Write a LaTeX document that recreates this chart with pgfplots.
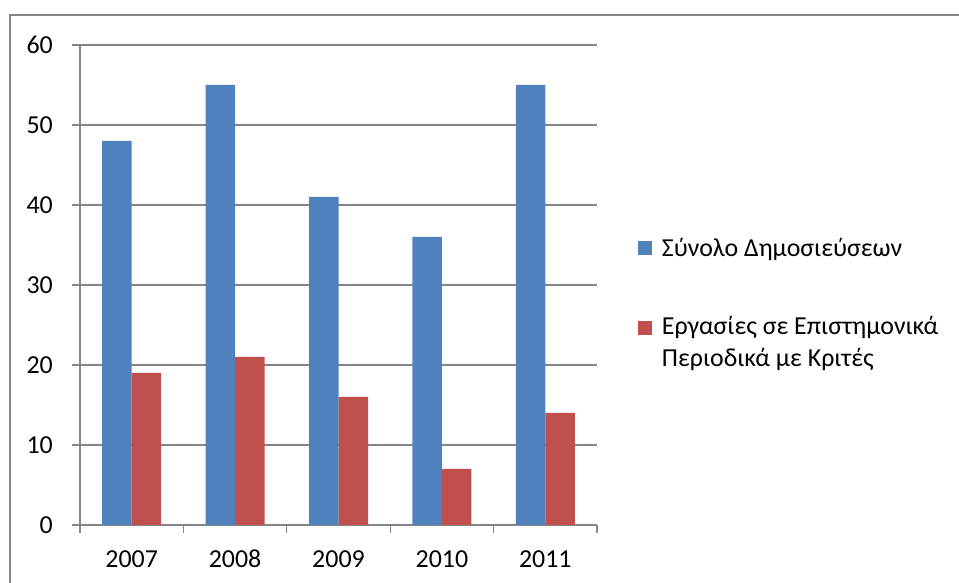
\documentclass[border=0pt]{standalone}
\usepackage{fontspec}
\setmainfont{Carlito}
\usepackage{pgfplots}
\pgfplotsset{compat=1.18}
\definecolor{sblue}{HTML}{4F81BD}
\definecolor{sred}{HTML}{C0504D}
\definecolor{gridgray}{HTML}{868686}
\begin{document}
\begin{tikzpicture}
\useasboundingbox (-80bp,-58bp) rectangle (879bp,525bp);
\draw[gridgray, line width=1.5bp] (-70bp,-58bp) -- (-70bp,510bp) -- (879bp,510bp);
\begin{axis}[
  scale only axis,
  width=517bp, height=480bp,
  ybar=0pt, bar width=29.5bp,
  xmin=-0.5, xmax=4.5, ymin=0, ymax=60,
  xtick={0,1,2,3,4},
  xticklabels={2007,2008,2009,2010,2011},
  minor xtick={-0.5,0.5,1.5,2.5,3.5,4.5},
  ytick={0,10,20,30,40,50,60},
  axis lines*=left,
  axis line style={gridgray, line width=1.2bp},
  ymajorgrids,
  major grid style={gridgray, line width=1.2bp},
  tick align=outside,
  major tick length=8bp, minor tick length=8bp,
  major x tick style={draw=none},
  minor x tick style={gridgray, line width=1.2bp},
  major y tick style={gridgray, line width=1.2bp},
  /pgf/number format/assume math mode=true,
  tick label style={font=\fontsize{26}{31}\selectfont, inner sep=0pt},
  yticklabel style={xshift=-19bp},
  xticklabel style={anchor=base, yshift=-34bp},
  legend style={draw=none, fill=none, at={(1.073,0.606)}, anchor=north west,
    font=\fontsize{26}{31}\selectfont, row sep=54bp, column sep=8bp,
    nodes={align=left, inner sep=2bp}},
  legend cell align=left,
  legend image code/.code={\fill[#1] (0bp,-7bp) rectangle (14bp,7bp);},
]
\addplot[fill=sblue, draw=none] coordinates {(0,48) (1,55) (2,41) (3,36) (4,55)};
\addlegendentry{Σύνολο Δημοσιεύσεων}
\addplot[fill=sred, draw=none,
  legend image code/.code={\fill[sred] (0bp,7bp) rectangle (14bp,21bp);}]
  coordinates {(0,19) (1,21) (2,16) (3,7) (4,14)};
\addlegendentry{Εργασίες σε Επιστημονικά\\[1bp]Περιοδικά με Κριτές}
\end{axis}
\end{tikzpicture}
\end{document}
